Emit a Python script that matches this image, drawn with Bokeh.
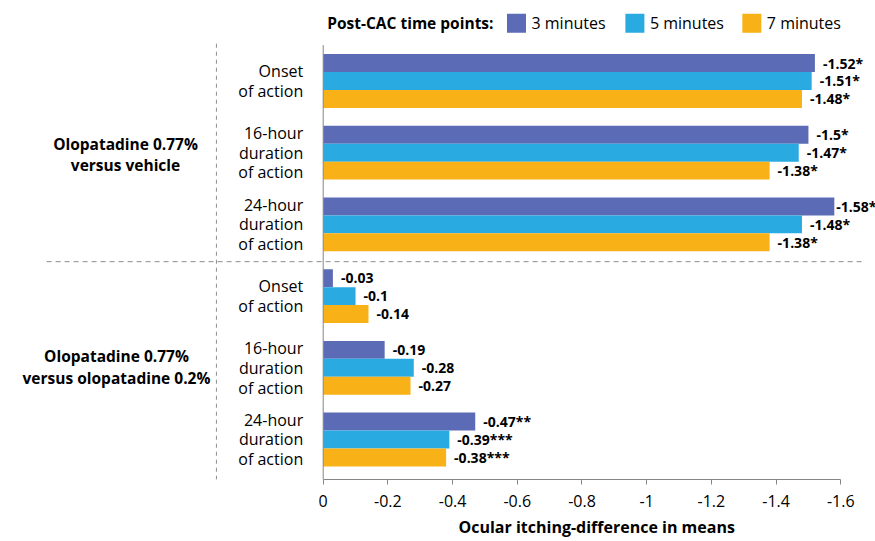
from bokeh.plotting import figure
from bokeh.models import Range1d, FixedTicker, CustomJSTickFormatter, Title, ColumnDataSource
from bokeh.core.properties import value
from bokeh.embed import file_html
from bokeh.resources import INLINE

# ---------------- data ----------------
categories = ["Onset\nof action", "16-hour\nduration\nof action", "24-hour\nduration\nof action",
              "Onset\nof action", "16-hour\nduration\nof action", "24-hour\nduration\nof action"]
groups = ["Olopatadine 0.77%\nversus vehicle", "Olopatadine 0.77%\nversus olopatadine 0.2%"]
series_names = ["3 minutes", "5 minutes", "7 minutes"]
min3 = [-1.52, -1.5, -1.58, -0.03, -0.19, -0.47]
min5 = [-1.51, -1.47, -1.48, -0.1, -0.28, -0.39]
min7 = [-1.48, -1.38, -1.38, -0.14, -0.27, -0.38]
sig3 = ["*", "*", "*", "", "", "**"]
sig5 = ["*", "*", "*", "", "", "***"]
sig7 = ["*", "*", "*", "", "", "***"]
x_ticks = [0, -0.2, -0.4, -0.6, -0.8, -1, -1.2, -1.4, -1.6]
x_tick_labels = ["0", "-0.2", "-0.4", "-0.6", "-0.8", "-1", "-1.2", "-1.4", "-1.6"]
legend_title = "Post-CAC time points:"
x_title = "Ocular itching-difference in means"

colors = ["#5B6BB5", "#29ABE2", "#F8B117"]
FONT = "Open Sans"
GRAY = "#868686"

p = figure(width=875, height=541,
           x_range=Range1d(0.9975, -1.7073), y_range=Range1d(5.558, -1.1227),
           output_backend="svg", toolbar_location=None, y_axis_location=None,
           min_border_left=0, min_border_right=0, min_border_top=0, min_border_bottom=62)
p.grid.visible = False
p.outline_line_color = None
p.background_fill_color = "white"
p.border_fill_color = "white"

ax = p.xaxis[0]
ax.bounds = (-1.6, 0)
ax.ticker = FixedTicker(ticks=x_ticks)
ax.formatter = CustomJSTickFormatter(
    args=dict(tvals=x_ticks, tlabels=x_tick_labels),
    code="const i = tvals.findIndex(t => Math.abs(t - tick) < 1e-9); return i >= 0 ? tlabels[i] : '';")
ax.axis_line_color = GRAY
ax.major_tick_line_color = GRAY
ax.major_tick_out = 5
ax.major_tick_in = 0
ax.minor_tick_out = 0
ax.minor_tick_in = 0
ax.major_label_text_font = FONT
ax.major_label_text_font_size = "16px"
ax.major_label_text_color = "black"
ax.major_label_standoff = 10

# axis title (placed as a below-title so it can sit off-centre like the original)
p.add_layout(Title(text=x_title, align="left", offset=458, standoff=8,
                   text_font=FONT, text_font_style="bold", text_font_size="16px",
                   text_color="black"), "below")

y_pos = list(range(len(categories)))
bar_h = 0.25
series = [min3, min5, min7]
sigs = [sig3, sig5, sig7]

for k, (vals, sg, col) in enumerate(zip(series, sigs, colors)):
    ys = [y + (k - 1) * bar_h for y in y_pos]
    labels = [f"{v:g}{s}" for v, s in zip(vals, sg)]
    offs = [2 if v < -1.55 else 8 for v in vals]
    src = ColumnDataSource(dict(y=ys, right=vals, label=labels, off=offs))
    p.hbar(y="y", left=0, right="right", height=bar_h, source=src,
           fill_color=col, line_color=None)
    p.text(x="right", y="y", text="label", x_offset="off", source=src,
           text_align="left", text_baseline="middle",
           text_font=value(FONT), text_font_style="bold", text_font_size="14px",
           text_color="black")

# vertical value axis line at zero
p.segment(x0=[0], y0=[-0.5], x1=[0], y1=[5.6], line_color=GRAY, line_width=1)

# dashed separators
p.segment(x0=[0.33], y0=[-0.52], x1=[0.33], y1=[5.6], line_color="#8c8c8c",
          line_width=1, line_dash="4 4")
p.segment(x0=[0.855], y0=[2.52], x1=[-1.67], y1=[2.52], line_color="#8c8c8c",
          line_width=1, line_dash="5 4")

# category labels
p.text(x=[0] * len(categories), y=y_pos, text=categories, x_offset=-20,
       text_align="right", text_baseline="middle", text_line_height=0.9,
       text_font=value(FONT), text_font_size="16px", text_color="black")

# group labels
p.text(x=[0.611, 0.639], y=[1.025, 3.99], text=groups,
       text_align="center", text_baseline="middle", text_line_height=0.97,
       text_font=value(FONT), text_font_style="bold", text_font_size="15.5px",
       text_color="black")

# legend
leg_y = -0.806
leg_x = [-0.5975, -0.9635, -1.325]
p.scatter(x=leg_x, y=[leg_y] * 3, marker="square", size=19, fill_color=colors, line_color=None)
p.text(x=leg_x, y=[leg_y] * 3, text=series_names, x_offset=15,
       text_align="left", text_baseline="middle",
       text_font=value(FONT), text_font_size="16px", text_color="black")
p.text(x=[leg_x[0]], y=[leg_y], text=[legend_title], x_offset=-23,
       text_align="right", text_baseline="middle",
       text_font=value(FONT), text_font_style="bold", text_font_size="15.5px",
       text_color="black")

open("out.html", "w").write(file_html(p, INLINE))
